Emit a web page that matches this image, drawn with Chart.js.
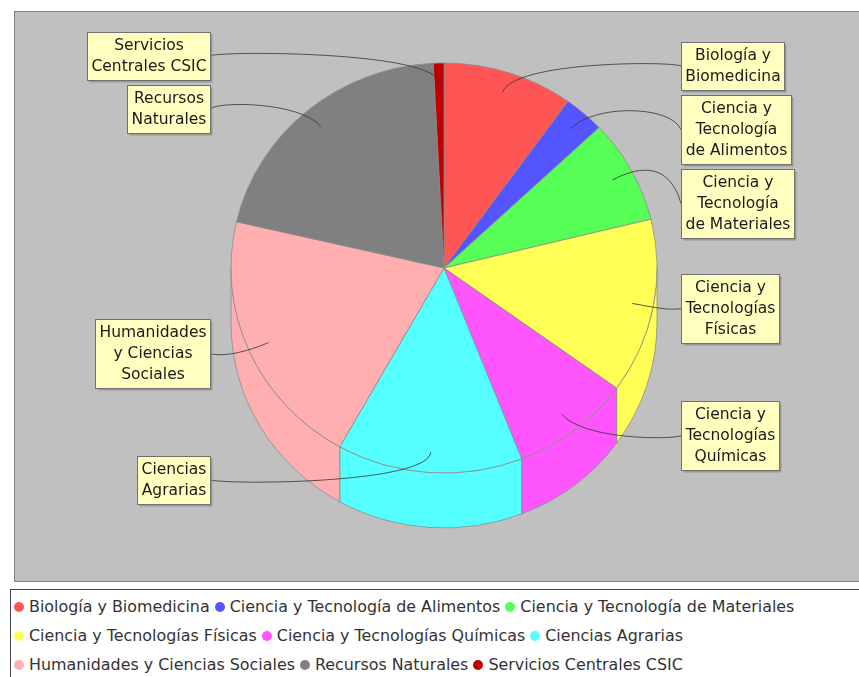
<!DOCTYPE html>
<html>
<head>
<meta charset="utf-8">
<script src="https://cdn.jsdelivr.net/npm/chart.js@4/dist/chart.umd.min.js"></script>
<style>
  html, body { margin: 0; padding: 0; background: #fff; overflow: hidden; }
  #wrap { position: relative; width: 859px; height: 677px; overflow: hidden; }
  #pie { position: absolute; left: 0; top: 0; }
  #legend {
    position: absolute; left: 10px; top: 589px; width: 862px; height: 100px;
    box-sizing: border-box; border: 1px solid #444; background: #fff;
    padding: 2px 0 0 3px; display: flex; flex-wrap: wrap; align-content: flex-start;
    font: 15.9px "DejaVu Sans", sans-serif; color: #333;
  }
  .item { display: flex; align-items: center; height: 29px; white-space: nowrap; margin-right: 5px; }
  .dot { width: 10px; height: 10px; border-radius: 50%; margin-right: 5px; }
</style>
</head>
<body>
<div id="wrap">
  <canvas id="pie" width="859" height="677"></canvas>
  <div id="legend"></div>
</div>
<script>
const categories = [
    'Biología y Biomedicina',
    'Ciencia y Tecnología de Alimentos',
    'Ciencia y Tecnología de Materiales',
    'Ciencia y Tecnologías Físicas',
    'Ciencia y Tecnologías Químicas',
    'Ciencias Agrarias',
    'Humanidades y Ciencias Sociales',
    'Recursos Naturales',
    'Servicios Centrales CSIC'
];
const values = [9.9, 3.1, 8.2, 13.8, 9.1, 14.1, 20.5, 20.6, 0.8];
const colours = ['#FF5555', '#5555FF', '#55FF55', '#FFFF55', '#FF55FF', '#55FFFF', '#FFAFAF', '#808080', '#C00000'];
// the labels on the plot are wrapped like this
const labelLines = [
    ['Biología y', 'Biomedicina'],
    ['Ciencia y', 'Tecnología', 'de Alimentos'],
    ['Ciencia y', 'Tecnología', 'de Materiales'],
    ['Ciencia y', 'Tecnologías', 'Físicas'],
    ['Ciencia y', 'Tecnologías', 'Químicas'],
    ['Ciencias', 'Agrarias'],
    ['Humanidades', 'y Ciencias', 'Sociales'],
    ['Recursos', 'Naturales'],
    ['Servicios', 'Centrales CSIC']
];

const pieTilt = 205 / 213;   // top face is a slightly flattened ellipse
const pieDepth = 55;
const sliceLine = '#8c8c8c';

function drawLabels(chart) {
    const ctx = chart.ctx;
    const arcs = chart.getDatasetMeta(0).data;
    const cx = arcs[0].x, cy = arcs[0].y;
    const rx = arcs[0].outerRadius, ry = rx * pieTilt;
    const lineH = 21;

    ctx.save();
    ctx.font = '15.5px "DejaVu Sans", sans-serif';

    const items = arcs.map((arc, i) => {
        const mid = (arc.startAngle + arc.endAngle) / 2;
        const h = labelLines[i].length * lineH + 6;
        const w = Math.max(...labelLines[i].map(t => ctx.measureText(t).width)) + 8;
        const right = Math.cos(mid) >= 0;
        return {
            i, mid, h, w, right,
            y: cy + Math.sin(mid) * ry * 1.035 - h / 2,
            x: right ? cx + rx + 24 : cx - rx - 21 - w
        };
    });

    // push overlapping labels down, one side at a time
    [true, false].forEach(side => {
        const list = items.filter(it => it.right === side).sort((a, b) => a.y - b.y);
        for (let k = 1; k < list.length; k++) {
            const minTop = list[k - 1].y + list[k - 1].h + 5;
            if (list[k].y < minTop) list[k].y = minTop;
        }
    });

    // link lines
    ctx.strokeStyle = '#333';
    ctx.lineWidth = 0.8;
    items.forEach(it => {
        const cos = Math.cos(it.mid), sin = Math.sin(it.mid);
        const lx = cx + cos * rx * 0.9, ly = cy + sin * ry * 0.9;
        const ex = cx + cos * rx * 1.06, ey = cy + sin * ry * 1.06;
        const ax = it.right ? cx + rx * 1.06 : cx - rx * 1.06;
        const tx = it.right ? it.x : it.x + it.w;
        const ty = it.y + it.h / 2;
        ctx.beginPath();
        ctx.moveTo(tx, ty);
        ctx.bezierCurveTo(ax, ey, ex, ey, lx, ly);
        ctx.stroke();
    });

    // label boxes
    items.forEach(it => {
        const x = Math.round(it.x) + 0.5, y = Math.round(it.y) + 0.5;
        const w = Math.round(it.w), h = it.h;
        ctx.fillStyle = 'rgba(120,120,120,0.55)';
        ctx.fillRect(x + 2, y + 2, w, h);
        ctx.fillStyle = '#FFFFC0';
        ctx.fillRect(x, y, w, h);
        ctx.strokeStyle = '#707070';
        ctx.lineWidth = 1;
        ctx.strokeRect(x, y, w, h);
        ctx.fillStyle = '#1a1a1a';
        ctx.textAlign = 'center';
        ctx.textBaseline = 'middle';
        labelLines[it.i].forEach((t, k) => {
            ctx.fillText(t, x + w / 2, y + 3 + lineH / 2 + k * lineH);
        });
    });
    ctx.restore();
}

const pie3d = {
    id: 'pie3d',
    beforeDraw(chart) {
        const ctx = chart.ctx;
        ctx.save();
        ctx.fillStyle = '#fff';
        ctx.fillRect(0, 0, chart.width, chart.height);
        ctx.fillStyle = '#C0C0C0';
        ctx.fillRect(14, 11, 845, 570);
        ctx.strokeStyle = '#808080';
        ctx.lineWidth = 1;
        ctx.strokeRect(14.5, 11.5, 846, 570);
        ctx.restore();
    },
    beforeDatasetsDraw(chart) {
        const ctx = chart.ctx;
        const arcs = chart.getDatasetMeta(0).data;
        // front wall of the pie
        ctx.save();
        arcs.forEach((arc, i) => {
            const a = Math.max(arc.startAngle, 0);
            const b = Math.min(arc.endAngle, Math.PI);
            if (a >= b) return;
            const rx = arc.outerRadius, ry = rx * pieTilt;
            ctx.beginPath();
            ctx.ellipse(arc.x, arc.y, rx, ry, 0, a, b);
            ctx.ellipse(arc.x, arc.y + pieDepth, rx, ry, 0, b, a, true);
            ctx.closePath();
            ctx.fillStyle = colours[i];
            ctx.fill();
            ctx.strokeStyle = sliceLine;
            ctx.lineWidth = 0.8;
            ctx.stroke();
        });
        ctx.restore();
        // flatten the top face
        const c = arcs[0];
        ctx.save();
        ctx.translate(c.x, c.y);
        ctx.scale(1, pieTilt);
        ctx.translate(-c.x, -c.y);
    },
    afterDatasetsDraw(chart) {
        chart.ctx.restore();
        drawLabels(chart);
    }
};

const cx = 444, cy = 268, r = 213;
const chart = new Chart(document.getElementById('pie'), {
    type: 'pie',
    data: {
        labels: categories,
        datasets: [{
            data: values,
            backgroundColor: colours,
            borderColor: sliceLine,
            borderWidth: 0.8,
            radius: r,
            clip: false
        }]
    },
    options: {
        responsive: false,
        animation: false,
        events: [],
        layout: {
            padding: { left: cx - r, right: 859 - cx - r, top: cy - r, bottom: 677 - cy - r }
        },
        plugins: {
            legend: { display: false },
            tooltip: { enabled: false }
        }
    },
    plugins: [pie3d]
});

// legend below the plot
const legend = document.getElementById('legend');
categories.forEach((name, i) => {
    const item = document.createElement('div');
    item.className = 'item';
    const dot = document.createElement('span');
    dot.className = 'dot';
    dot.style.background = colours[i];
    item.appendChild(dot);
    item.appendChild(document.createTextNode(name));
    legend.appendChild(item);
});
</script>
</body>
</html>
